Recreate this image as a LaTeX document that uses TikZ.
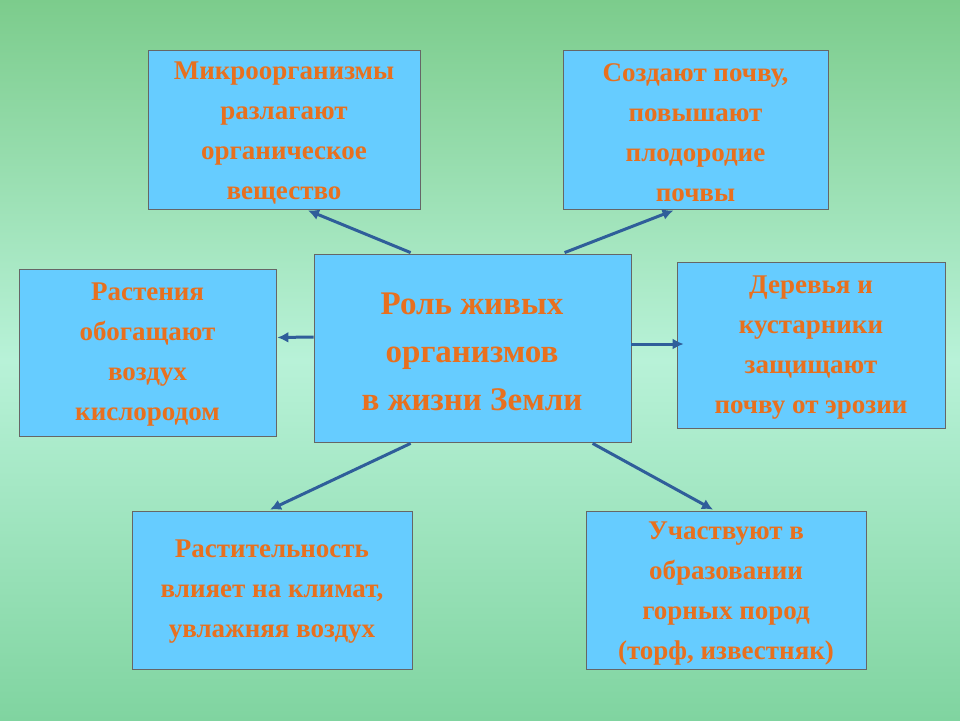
\documentclass[tikz,border=0pt]{standalone}
\usepackage{fontspec}
\setmainfont{Liberation Serif}
\usetikzlibrary{calc,arrows.meta}
\definecolor{boxfill}{HTML}{66CCFF}
\definecolor{txt}{HTML}{E8701E}
\definecolor{arrc}{HTML}{2F5E9A}
\definecolor{bgtop}{HTML}{7CCC8C}
\definecolor{bgmid}{HTML}{B8F2D8}
\definecolor{bgbot}{HTML}{80D4A0}
\begin{document}
\begin{tikzpicture}[x=1pt,y=-1pt,
  box/.style={draw=black!60,line width=0.8pt,fill=boxfill,inner sep=0pt},
  lbl/.style={text=txt,font=\bfseries\fontsize{27}{40}\selectfont,align=center},
  arr/.style={draw=arrc,line width=3pt,-{Latex[length=11pt,width=11pt]}}]
\shade[top color=bgtop,bottom color=bgmid] (0,0) rectangle (960,360);
\shade[top color=bgmid,bottom color=bgbot] (0,360) rectangle (960,720);
\useasboundingbox (0,0) rectangle (960,720);
\node[box,minimum width=272,minimum height=159] (A) at (284,129.5) {};
\node[lbl] at (284,133) {Микроорганизмы\\разлагают\\органическое\\вещество};
\node[box,minimum width=265,minimum height=159] (B) at (695.5,129.5) {};
\node[lbl] at (695.5,133) {Создают почву,\\повышают\\плодородие\\почвы};
\node[box,minimum width=257,minimum height=167] (C) at (147.5,352.5) {};
\node[lbl] at (147.5,355) {Растения\\обогащают\\воздух\\кислородом};
\node[box,minimum width=317,minimum height=188] (D) at (472.5,348) {};
\node[lbl,font=\bfseries\fontsize{33}{48}\selectfont] at (472,352) {Роль живых\\организмов\\в жизни Земли};
\node[box,minimum width=268,minimum height=166] (E) at (811,345) {};
\node[lbl] at (811,348) {Деревья и\\кустарники\\защищают\\почву от эрозии};
\node[box,minimum width=280,minimum height=158] (F) at (272,590) {};
\node[lbl] at (272,592) {Растительность\\влияет на климат,\\увлажняя воздух};
\node[box,minimum width=280,minimum height=158] (G) at (726,590) {};
\node[lbl] at (726,594) {Участвуют в\\образовании\\горных пород\\(торф, известняк)};
\draw[arr] ($(D.north west)+(97,-1)$) -- ($(A.south)+(24,1)$);
\draw[arr] ($(D.north west)+(251,-1)$) -- ($(B.south)+(-22,1)$);
\draw[arr] ($(D.west)+(0,-11)$) -- ($(C.east)+(1,-15)$);
\draw[arr] ($(D.east)+(0,-4)$) -- ($(E.west)+(7,-1)$);
\draw[arr] ($(D.south west)+(97,1)$) -- ($(F.north)+(-2,-1)$);
\draw[arr] ($(D.south west)+(279,1)$) -- ($(G.north)+(-13,-1)$);
\end{tikzpicture}
\end{document}
